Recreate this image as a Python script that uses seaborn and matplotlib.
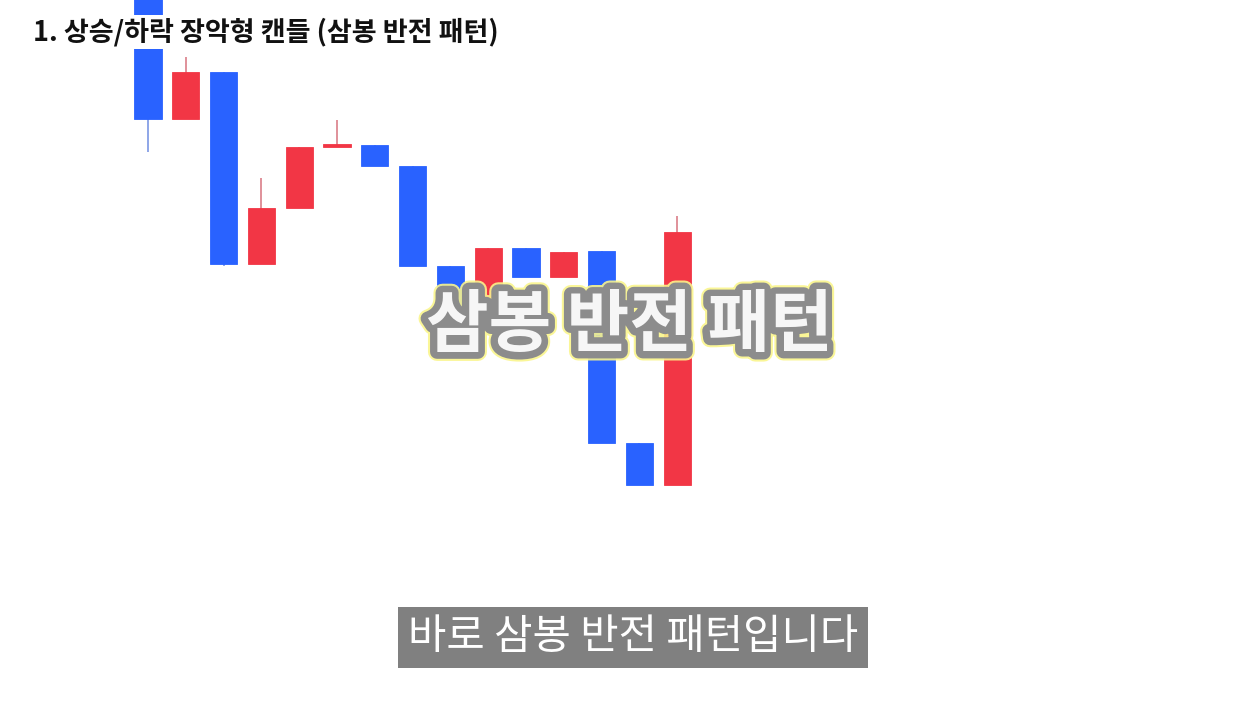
import matplotlib
matplotlib.use("Agg")
import matplotlib.pyplot as plt
import matplotlib.patheffects as pe
import seaborn as sns
import numpy as np

# Données des bougies
opens  = [71.9, 58.5, 63.2, 44.0, 49.6, 55.7, 55.9, 53.8, 43.8, 38.2, 45.6, 42.7, 45.3, 26.1, 21.9]
closes = [58.5, 63.2, 44.0, 49.6, 55.7, 55.9, 53.8, 43.8, 38.2, 45.6, 42.7, 45.2, 26.1, 21.9, 47.2]
highs  = [71.9, 64.7, 63.2, 52.6, 55.7, 58.4, 55.9, 53.8, 43.8, 45.6, 45.6, 45.2, 45.3, 26.1, 48.8]
lows   = [55.2, 58.5, 43.8, 44.0, 49.6, 55.7, 53.8, 43.8, 38.2, 38.2, 42.7, 42.7, 26.1, 21.9, 21.9]

title_txt = "1. 상승/하락 장악형 캔들 (삼봉 반전 패턴)"
overlay_txt = "삼봉 반전 패턴"
caption_txt = "바로 삼봉 반전 패턴입니다"

up_col, down_col = "#F23645", "#2962FF"
up_wick, down_wick = "#E0909A", "#8EA6E8"

sns.set_theme(style="white")
plt.rcParams["font.family"] = ["Noto Sans CJK KR", "DejaVu Sans"]

fig = plt.figure(figsize=(12.6, 7.04), dpi=100)
ax = fig.add_axes([0, 0, 1, 1])

x = np.arange(len(opens))
o = np.array(opens)
c = np.array(closes)
is_up = c >= o
cols = np.where(is_up, up_col, down_col)
wcols = np.where(is_up, up_wick, down_wick)

# Mèches
ax.vlines(x, lows, highs, colors=wcols, linewidth=1.4, zorder=1)
# Corps
body_h = np.abs(c - o)
body_h = np.where(body_h < 0.3, 0.3, body_h)
ax.bar(x, body_h, bottom=np.minimum(o, c), width=0.72, color=cols,
       edgecolor=cols, linewidth=0.6, zorder=2)

# Échelle: 37.8 px par bougie, première bougie à x=148 px
ax.set_xlim(-148 / 37.8, (1260 - 148) / 37.8)
ax.set_ylim(0, 70.4)
ax.axis("off")

# Titre en haut à gauche
fig.text(33 / 1260, 1 - 32 / 704, title_txt, fontsize=19.5, fontweight="bold",
         color="#111111", va="center", ha="left", zorder=5,
         bbox=dict(facecolor="white", edgecolor="none", pad=1.5))

# Texte central : contour d'abord, remplissage blanc par-dessus
ov_x, ov_y = 629 / 1260, 1 - 327 / 704
fig.text(ov_x, ov_y, overlay_txt, fontsize=49, fontweight="black",
         color=(1, 1, 1, 0), ha="center", va="center", zorder=6,
         path_effects=[pe.Stroke(linewidth=13, foreground=(0.98, 0.96, 0.55, 0.9)),
                       pe.Stroke(linewidth=10, foreground="#8c8c8c")])
fig.text(ov_x, ov_y, overlay_txt, fontsize=49, fontweight="black",
         color=(1, 1, 1, 0.93), ha="center", va="center", zorder=7)

# Sous-titre
fig.text(633 / 1260, 1 - 637 / 704, caption_txt, fontsize=30, color="white",
         ha="center", va="center", zorder=6,
         bbox=dict(facecolor="#808080", edgecolor="none", boxstyle="square,pad=0.24"))

plt.savefig("out.png", dpi=100)
